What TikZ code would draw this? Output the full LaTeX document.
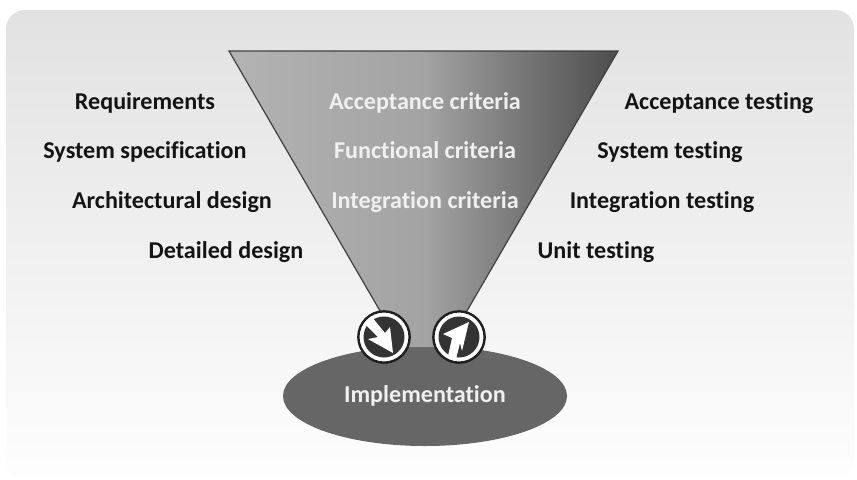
\documentclass[tikz,border=0pt]{standalone}
\usepackage{fontspec}
\setmainfont[Ligatures=NoCommon]{Carlito}
\definecolor{panelTop}{gray}{0.885}
\definecolor{panelBot}{gray}{0.995}
\tikzset{
  lbl/.style={font=\fontsize{18.1}{20}\selectfont\bfseries, text=black!92, inner sep=0pt, anchor=base},
  wlbl/.style={font=\fontsize{18.1}{20}\selectfont\bfseries, text=white!94!black, inner sep=0pt, anchor=base},
  badge/.style={circle, draw=black!88, line width=1.8pt, fill=white, minimum size=38.5pt, inner sep=0pt},
}
\begin{document}
\begin{tikzpicture}[x=0.75pt,y=-0.75pt]
\useasboundingbox (0,0) rectangle (857,479);
\fill[white] (0,0) rectangle (857,479);
\shade[top color=panelTop,bottom color=panelBot,rounded corners=14pt] (6,10) rectangle (854,479);
% ellipse
\fill[black!60] (425,396) ellipse [x radius=142, y radius=50];
% funnel
\shade[left color=black!30,right color=black!70,middle color=black!36] (229,51) -- (618,51) -- (446,347) -- (401,347) -- cycle;
\draw[black!75,line width=0.9pt] (401,347) -- (229,51) -- (618,51) -- (446,347);
% badges
\node[badge] (inb) at (384,337) {};
\fill[black!80] (inb.center) circle [radius=20.5];
\fill[white] (372,317) -- (385,333) -- (390,327) -- (393,353) -- (368,339) -- (378,337) -- (365,324) -- cycle;
\node[badge] (outb) at (459,337) {};
\fill[black!80] (outb.center) circle [radius=20.5];
\fill[white] (469,322) -- (462,351) -- (460,343) -- (456,359) -- (448,356) -- (452,338) -- (443,334) -- cycle;
% labels
\node[lbl] (r1) at (145,109) {Requirements};
\node[lbl] (r2) at (145,158) {System specification};
\node[lbl] (r3) at (172,208) {Architectural design};
\node[lbl] (r4) at (226,258) {Detailed design};
\node[wlbl] (c1) at (425,109) {Acceptance criteria};
\node[wlbl] (c2) at (425,158) {Functional criteria};
\node[wlbl] (c3) at (425,208) {Integration criteria};
\node[lbl] (t1) at (719,109) {Acceptance testing};
\node[lbl] (t2) at (670,158) {System testing};
\node[lbl] (t3) at (662,208) {Integration testing};
\node[lbl] (t4) at (596,258) {Unit testing};
\node[wlbl] (impl) at (425,402) {Implementation};
\end{tikzpicture}
\end{document}
